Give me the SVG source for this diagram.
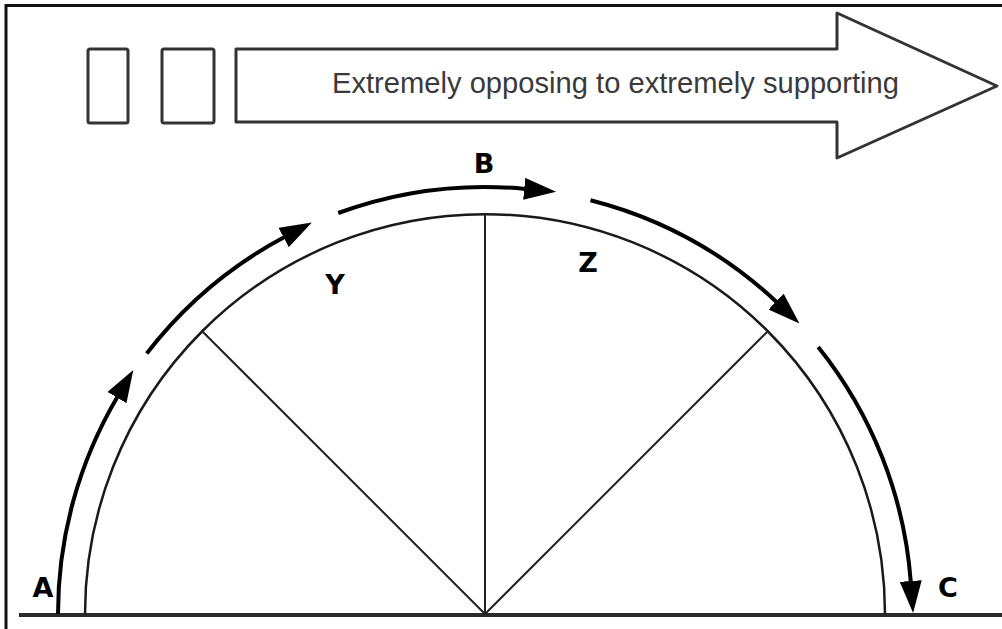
<svg xmlns="http://www.w3.org/2000/svg" width="1002" height="629" viewBox="0 0 1002 629">
  <style>
    .frame { fill: none; stroke: #111; stroke-width: 3; }
    .box { fill: #fff; stroke: #333; stroke-width: 3; stroke-linejoin: round; }
    .scale-text { font-family: "Liberation Sans", Arial, sans-serif; font-size: 29px; fill: #3a3a3a; }
    .arc { fill: none; stroke: #1a1a1a; stroke-width: 2.5; }
    .radial { fill: none; stroke: #222; stroke-width: 2; }
    .base { fill: none; stroke: #2a2a2a; stroke-width: 4; }
    .flow { fill: none; stroke: #000; stroke-width: 4; }
    .lbl { font-family: "DejaVu Sans", "Liberation Sans", sans-serif; font-weight: bold; font-size: 27px; fill: #000; text-anchor: middle; }
  </style>
  <defs>
    <marker id="head" markerUnits="userSpaceOnUse" viewBox="0 0 32 22" markerWidth="32" markerHeight="22" refX="1" refY="11" orient="auto">
      <path d="M0,0 L32,11 L0,22 z" fill="#000"/>
    </marker>
  </defs>
  <rect width="1002" height="629" fill="#fff"/>

  <g id="frame">
    <path class="frame" d="M6,629 L6,5.5 L1002,5.5"/>
  </g>

  <g id="scale">
    <rect id="box1" class="box" x="88" y="49" width="40" height="74" rx="2"/>
    <rect id="box2" class="box" x="162" y="49" width="52" height="74" rx="2"/>
    <g id="big-arrow">
      <path class="box" d="M236,49 L837,49 L837,13 L997,86 L837,158 L837,122 L236,122 Z"/>
      <text class="scale-text" x="332" y="93" textLength="567" lengthAdjust="spacingAndGlyphs">Extremely opposing to extremely supporting</text>
    </g>
  </g>

  <g id="semicircle">
    <path class="base" d="M19,615 L1002,615"/>
    <path class="arc" d="M85,614 A400,400 0 0 1 885,614"/>
    <path class="radial" d="M485,614 L485,214 M485,614 L202.2,331.2 M485,614 L767.8,331.2"/>
  </g>

  <g id="connectors">
    <path class="flow" marker-end="url(#head)" d="M58,614 A427,427 0 0 1 117.5,396.7"/>
    <path class="flow" marker-end="url(#head)" d="M146.7,353.5 A427,427 0 0 1 284.5,237"/>
    <path class="flow" marker-end="url(#head)" d="M338.2,213 A427,427 0 0 1 525.2,188.9"/>
    <path class="flow" marker-end="url(#head)" d="M590.5,200.2 A427,427 0 0 1 776.8,302.2"/>
    <path class="flow" marker-end="url(#head)" d="M818.2,347 A427,427 0 0 1 910.8,582"/>
  </g>

  <g id="label-A"><text class="lbl" x="43" y="597">A</text></g>
  <g id="label-B"><text class="lbl" x="484" y="173">B</text></g>
  <g id="label-C"><text class="lbl" x="948" y="597">C</text></g>
  <g id="label-Y"><text class="lbl" x="335" y="294">Y</text></g>
  <g id="label-Z"><text class="lbl" x="588" y="272">Z</text></g>
</svg>
